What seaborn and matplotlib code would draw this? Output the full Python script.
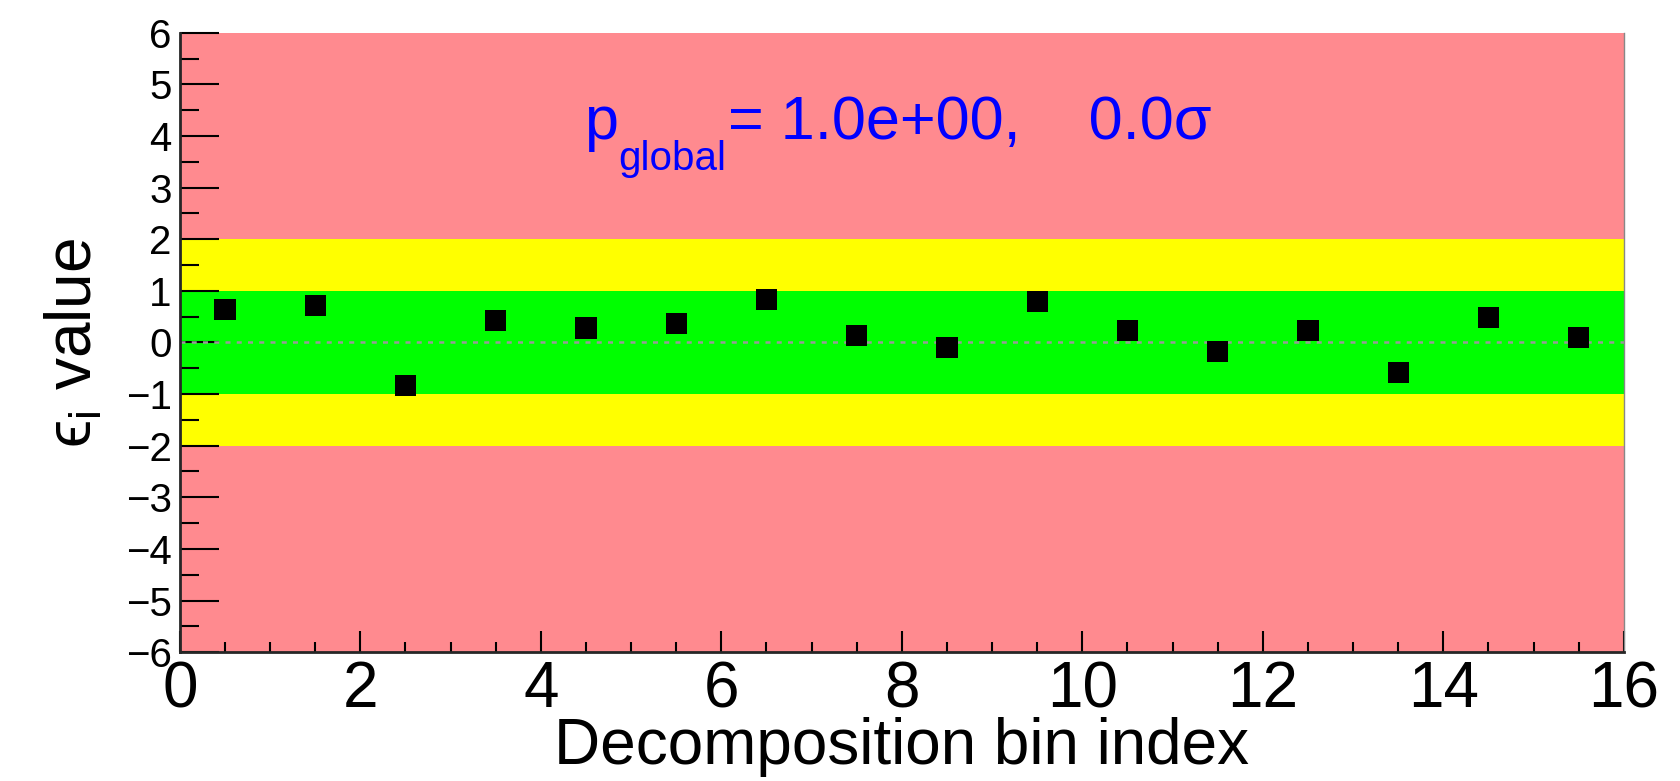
"""
Local significance per decomposition bin, drawn ROOT-style with 1/2 sigma bands.
"""

import matplotlib
matplotlib.use("Agg")
import matplotlib.pyplot as plt
from matplotlib.ticker import MultipleLocator
import pandas as pd
import seaborn as sns

# values
bin_centers = [0.5, 1.5, 2.5, 3.5, 4.5, 5.5, 6.5, 7.5,
               8.5, 9.5, 10.5, 11.5, 12.5, 13.5, 14.5, 15.5]
eps_values = [0.63, 0.71, -0.84, 0.42, 0.28, 0.36, 0.84, 0.14,
              -0.10, 0.79, 0.23, -0.18, 0.23, -0.58, 0.49, 0.09]
x_range = (0, 16)
y_range = (-6, 6)
band_1sigma = (-1, 1)
band_2sigma = (-2, 2)
p_global_text = "= 1.0e+00,    0.0σ"

RED = "#ff8a8f"
YELLOW = "#ffff00"
GREEN = "#00ff00"
FONTS = ["Liberation Sans", "DejaVu Sans"]

sns.set_style("ticks")
plt.rcParams["font.family"] = FONTS
plt.rcParams["mathtext.fontset"] = "custom"
plt.rcParams["mathtext.rm"] = "Liberation Sans"
plt.rcParams["mathtext.it"] = "Liberation Sans"
for key in ["text.color", "axes.labelcolor", "xtick.color", "ytick.color"]:
    plt.rcParams[key] = "black"

df = pd.DataFrame({"bin": bin_centers, "eps": eps_values})

fig = plt.figure(figsize=(16.81, 7.81), dpi=100)
ax = fig.add_axes([0.107, 0.165, 0.859, 0.793])

# background bands
ax.axhspan(*y_range, color=RED, zorder=0, lw=0)
ax.axhspan(*band_2sigma, color=YELLOW, zorder=0.1, lw=0)
ax.axhspan(*band_1sigma, color=GREEN, zorder=0.2, lw=0)
ax.axhline(0, color="#999999", ls=(0, (2, 2.5)), lw=1.8, zorder=1)

sns.scatterplot(data=df, x="bin", y="eps", marker="s", s=230,
                color="black", edgecolor="none", ax=ax, zorder=3)

ax.set_xlim(*x_range)
ax.set_ylim(*y_range)

# ROOT-like ticks: inward, left/bottom only
ax.xaxis.set_major_locator(MultipleLocator(2))
ax.xaxis.set_minor_locator(MultipleLocator(0.5))
ax.yaxis.set_major_locator(MultipleLocator(1))
ax.yaxis.set_minor_locator(MultipleLocator(0.5))
ax.tick_params(axis="x", which="major", direction="in", length=15, width=1.5,
               labelsize=46, pad=6)
ax.tick_params(axis="x", which="minor", direction="in", length=7.5, width=1.5)
ax.tick_params(axis="y", which="major", direction="in", length=28, width=1.5,
               labelsize=29, pad=6)
ax.tick_params(axis="y", which="minor", direction="in", length=14, width=1.5)
ax.tick_params(top=False, right=False, which="both")

for side in ["left", "bottom"]:
    ax.spines[side].set_linewidth(2)
ax.spines["top"].set_visible(False)
ax.spines["right"].set_linewidth(1)
ax.spines["right"].set_color("#888888")

ax.set_xlabel("Decomposition bin index", fontsize=46)
ax.xaxis.set_label_coords(0.5, -0.105)
ax.set_ylabel(r"ϵ$_{\mathrm{i}}$ value", fontsize=46)
ax.yaxis.set_label_coords(-0.052, 0.5)

# p_global label, built from pieces so the subscript sits low like ROOT's
t_p = ax.text(0.28, 0.829, "p", color="blue", fontsize=44,
              transform=ax.transAxes, ha="left", va="baseline")
t_sub = ax.annotate("global", xy=(1, 0), xycoords=t_p, xytext=(0, -13),
                    textcoords="offset points", color="blue", fontsize=29,
                    ha="left", va="baseline")
ax.annotate(p_global_text, xy=(1, 0), xycoords=(t_sub, t_p), xytext=(1, 0),
            textcoords="offset points", color="blue", fontsize=44,
            ha="left", va="bottom")

fig.savefig("out.png", dpi=100)
plt.close(fig)
